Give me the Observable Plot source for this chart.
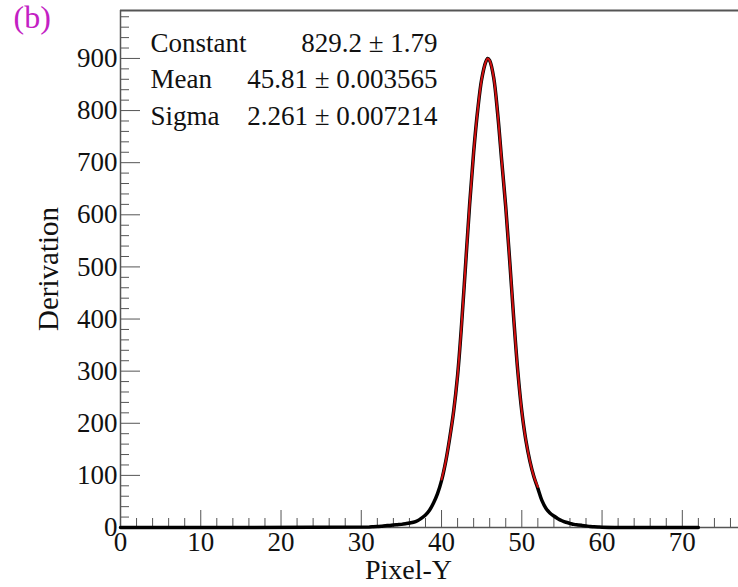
<!DOCTYPE html>
<html><head><meta charset="utf-8">
<script src="https://cdn.jsdelivr.net/npm/d3@7"></script>
<script src="https://cdn.jsdelivr.net/npm/@observablehq/plot@0.6"></script>
<style>body{margin:0;background:#fff}</style>
</head><body><div id="chart"></div>
<script>
// Measured histogram (black)
const pixelY = [0, 31, 31.5, 32, 32.5, 33, 33.5, 34, 34.5, 35, 35.5, 36, 36.5, 37, 37.5, 38, 38.5, 39, 39.5, 40, 40.5, 41, 41.5, 42, 42.5, 43, 43.5, 44, 44.5, 45, 45.5, 45.75, 46, 46.5, 47, 47.5, 48, 48.5, 49, 49.5, 50, 50.5, 51, 51.5, 52, 52.5, 53, 53.5, 54, 54.5, 55, 55.5, 56, 56.5, 57, 57.5, 58, 58.5, 59, 59.5, 60, 72];
const derivation = [0, 1, 1.5, 2, 2.5, 3.5, 4, 5, 5.5, 6, 7, 8.5, 10, 13, 18, 24, 33, 47, 65, 90, 125, 170, 222, 292, 390, 505, 620, 720, 800, 860, 893, 900, 896, 863, 793, 703, 615, 510, 400, 300, 223, 168, 128, 98, 75, 52, 37, 28, 22, 17, 13, 10, 8, 6, 5, 4, 3, 2, 1.5, 1, 0.5, 0];
// Gaussian fit (red)
const fitX = [40, 40.5, 41, 41.5, 42, 42.5, 43, 43.5, 44, 44.5, 45, 45.5, 45.75, 46, 46.5, 47, 47.5, 48, 48.5, 49, 49.5, 50, 50.5, 51, 51.5, 52];
const fitY = [92, 125, 170, 222, 292, 390, 505, 620, 720, 800, 860, 893, 900, 896, 863, 793, 703, 615, 510, 400, 300, 223, 168, 128, 98, 78];
// Ticks
const xMajor = [0, 10, 20, 30, 40, 50, 60, 70];
const xMinor = [2, 4, 6, 8, 12, 14, 16, 18, 22, 24, 26, 28, 32, 34, 36, 38, 42, 44, 46, 48, 52, 54, 56, 58, 62, 64, 66, 68, 72, 74, 76];
const yMajor = [0, 100, 200, 300, 400, 500, 600, 700, 800, 900];
const yMinor = [20, 40, 60, 80, 120, 140, 160, 180, 220, 240, 260, 280, 320, 340, 360, 380, 420, 440, 460, 480, 520, 540, 560, 580, 620, 640, 660, 680, 720, 740, 760, 780, 820, 840, 860, 880, 920, 940, 960, 980];
// Stats box
const statNames = ["Constant", "Mean", "Sigma"];
const statValues = ["829.2 ± 1.79", "45.81 ± 0.003565", "2.261 ± 0.007214"];
const panelLabel = "(b)";
const xLabel = "Pixel-Y";
const yLabel = "Derivation";

const data = pixelY.map((x, i) => ({x, y: derivation[i]}));
const fit = fitX.map((x, i) => ({x, y: fitY[i]}));

const font = "Liberation Serif, Times New Roman, serif";
const statMarks = statNames.flatMap((n, i) => [
  Plot.text([n], {text: d => d, frameAnchor: "top-left", dx: 30, dy: 22 + i * 36.5, textAnchor: "start", lineAnchor: "top", fontSize: 27, fill: "#111"}),
  Plot.text([statValues[i]], {text: d => d, frameAnchor: "top-left", dx: 317, dy: 22 + i * 36.5, textAnchor: "end", lineAnchor: "top", fontSize: 27, fill: "#111"})
]);

const chart = Plot.plot({
  width: 738,
  height: 587,
  marginLeft: 120,
  marginRight: 0,
  marginTop: 10,
  marginBottom: 60,
  style: {fontFamily: font, fontSize: "26px", color: "#111", background: "#fff"},
  x: {domain: [0, 77], label: null},
  y: {domain: [0, 992], label: null},
  marks: [
    Plot.ruleX([0], {stroke: "#555", strokeWidth: 1.5}),
    Plot.ruleY([992], {stroke: "#555", strokeWidth: 2}),
    Plot.ruleY([0], {stroke: "#555", strokeWidth: 1.5}),
    Plot.axisX({ticks: xMajor, tickSize: -17, tickFormat: () => "", stroke: "#555", label: null}),
    Plot.axisX({ticks: xMinor, tickSize: -9, tickFormat: () => "", stroke: "#555", label: null}),
    Plot.axisX({ticks: xMajor, tickSize: 0, tickPadding: 4, fontSize: 27, label: null, fill: "#111"}),
    Plot.axisY({ticks: yMajor, tickSize: -20, tickFormat: () => "", stroke: "#555", label: null}),
    Plot.axisY({ticks: yMinor, tickSize: -9, tickFormat: () => "", stroke: "#555", label: null}),
    Plot.axisY({ticks: yMajor, tickSize: 0, tickPadding: 3, fontSize: 27, label: null, fill: "#111"}),
    Plot.line(data, {x: "x", y: "y", stroke: "#000", strokeWidth: 3.5, curve: "catmull-rom"}),
    Plot.line(fit, {x: "x", y: "y", stroke: "#d01010", strokeWidth: 2, curve: "catmull-rom"}),
    ...statMarks,
    Plot.text([panelLabel], {text: d => d, frameAnchor: "top-left", dx: -107, dy: -5, textAnchor: "start", lineAnchor: "top", fontSize: 32, fill: "#c41fc4"}),
    Plot.text([xLabel], {text: d => d, frameAnchor: "bottom", dx: -21, dy: 51, fontSize: 28, fill: "#111"}),
    Plot.text([yLabel], {text: d => d, frameAnchor: "left", dx: -72, rotate: -90, textAnchor: "middle", fontSize: 29, fill: "#111"})
  ]
});
document.getElementById("chart").append(chart);
</script>
</body></html>
